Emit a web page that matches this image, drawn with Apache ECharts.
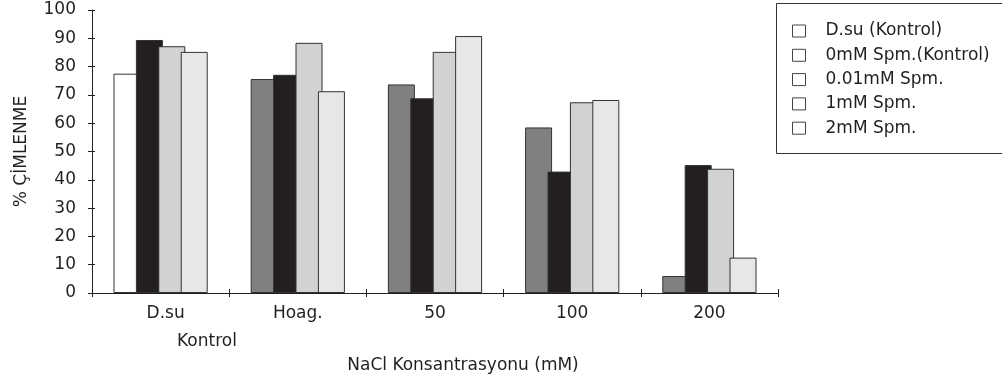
<!DOCTYPE html>
<html>
<head>
<meta charset="utf-8">
<script src="https://cdn.jsdelivr.net/npm/echarts@6/dist/echarts.min.js"></script>
<style>
html,body{margin:0;padding:0;background:#fff;}
#chart{width:1002px;height:385px;}
</style>
</head>
<body>
<div id="chart"></div>
<script>
const categories = ['D.su', 'Hoag.', '50', '100', '200'];
const seriesNames = ['D.su (Kontrol)', '0mM Spm.(Kontrol)', '0.01mM Spm.', '1mM Spm.', '2mM Spm.'];
const dsuKontrol = [77.5, '-', '-', '-', '-'];
const spm0 = ['-', 75.6, 73.7, 58.5, 6.0];
const spm001 = [89.4, 77.1, 68.8, 42.9, 45.2];
const spm1 = [87.2, 88.4, 85.2, 67.4, 43.9];
const spm2 = [85.2, 71.3, 90.8, 68.2, 12.5];
const yTicks = [0, 10, 20, 30, 40, 50, 60, 70, 80, 90, 100];

const font = 'DejaVu Sans';
const txt = '#231f20';
const colors = ['#ffffff', '#808083', '#231f20', '#d1d2d4', '#e6e7e8'];
const datasets = [dsuKontrol, spm0, spm001, spm1, spm2];

const chart = echarts.init(document.getElementById('chart'), null, {renderer: 'canvas'});

const series = datasets.map((d, i) => ({
  name: seriesNames[i],
  type: 'bar',
  data: d,
  stack: i < 2 ? 'first' : undefined,
  barWidth: 27,
  barGap: '-17%',
  itemStyle: {color: colors[i], borderColor: '#333', borderWidth: 1},
  emphasis: {disabled: true},
  animation: false
}));

chart.setOption({
  animation: false,
  grid: {left: 92, right: 224, top: 10, bottom: 92},
  legend: {
    orient: 'vertical',
    left: 787,
    top: 16,
    data: seriesNames,
    icon: 'rect',
    itemWidth: 13,
    itemHeight: 12,
    itemGap: 4.3,
    selectedMode: false,
    itemStyle: {color: '#fff', borderColor: '#444', borderWidth: 1},
    textStyle: {fontFamily: font, fontSize: 17, color: txt, lineHeight: 20, padding: [0, 0, 0, 15]}
  },
  xAxis: [{
    type: 'category',
    data: categories,
    name: 'NaCl Konsantrasyonu (mM)',
    nameLocation: 'middle',
    nameGap: 64,
    nameTextStyle: {fontFamily: font, fontSize: 17, color: txt, padding: [0, 0, 0, 56]},
    axisLine: {lineStyle: {color: '#231f20', width: 1}},
    axisTick: {show: true, length: 4, lineStyle: {color: '#231f20'}},
    axisLabel: {fontFamily: font, fontSize: 17, color: txt, margin: 12,
      formatter: (v, i) => i === 0 ? '{s|' + v + '}' : v,
      rich: {s: {fontFamily: font, fontSize: 17, color: txt, padding: [0, 0, 0, 10]}}}
  }, {
    type: 'category',
    data: categories,
    position: 'bottom',
    axisLine: {show: false},
    axisTick: {show: true, inside: true, length: 4, lineStyle: {color: '#231f20'}},
    axisLabel: {show: false}
  }],
  yAxis: [{
    type: 'value',
    min: 0, max: 100, interval: 10,
    name: '% ÇİMLENME',
    nameLocation: 'middle',
    nameGap: 62,
    nameRotate: 90,
    nameTextStyle: {fontFamily: font, fontSize: 17, color: txt},
    splitLine: {show: false},
    axisLine: {show: true, lineStyle: {color: '#231f20', width: 1}},
    axisTick: {show: true, length: 4, lineStyle: {color: '#231f20'}},
    axisLabel: {fontFamily: font, fontSize: 17, color: txt, margin: 16,
      formatter: v => yTicks.includes(v) ? String(v) : ''}
  }, {
    type: 'value',
    min: 0, max: 100, interval: 10,
    position: 'left',
    splitLine: {show: false},
    axisLine: {show: false},
    axisTick: {show: true, inside: true, length: 3, lineStyle: {color: '#231f20'}},
    axisLabel: {show: false}
  }],
  series: series,
  graphic: [
    {type: 'rect', shape: {x: 776.5, y: 3.5, width: 240, height: 150},
     style: {fill: 'none', stroke: '#333', lineWidth: 1}, z: -1},
    {type: 'text', left: 177, top: 333,
     style: {text: 'Kontrol', font: '17px "DejaVu Sans"', fill: txt}}
  ]
});
</script>
</body>
</html>
